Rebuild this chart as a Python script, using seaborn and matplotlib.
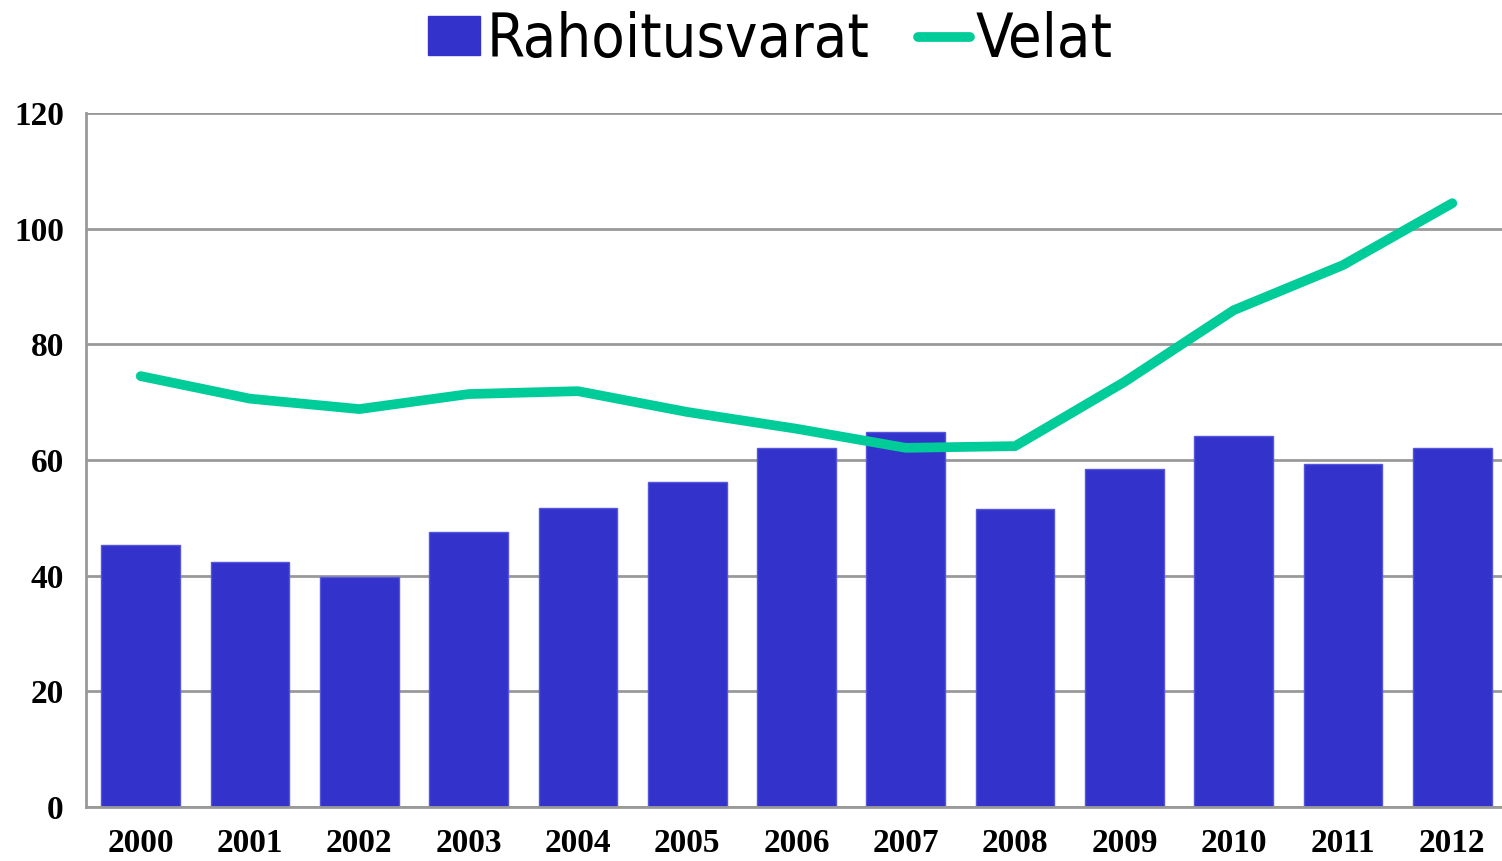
import pandas as pd
import matplotlib.pyplot as plt
import seaborn as sns
from matplotlib.patches import Patch
from matplotlib.lines import Line2D

years = ["2000", "2001", "2002", "2003", "2004", "2005", "2006",
         "2007", "2008", "2009", "2010", "2011", "2012"]
rahoitusvarat = [45.3, 42.4, 39.8, 47.6, 51.7, 56.2, 62.1,
                 64.8, 51.5, 58.4, 64.2, 59.3, 62.1]
velat = [74.5, 70.6, 68.8, 71.4, 71.9, 68.3, 65.4,
         62.1, 62.4, 73.5, 85.9, 93.7, 104.4]
y_ticks = [0, 20, 40, 60, 80, 100, 120]

BAR = "#3333CC"
LINE = "#00CC99"
GRID = "#999999"

df = pd.DataFrame({"year": years, "Rahoitusvarat": rahoitusvarat, "Velat": velat})

sns.set_style("white")

fig = plt.figure(figsize=(15.02, 8.61), dpi=100)
ax = fig.add_axes([0.0573, 0.0627, 0.9460, 0.8061])

sns.barplot(data=df, x="year", y="Rahoitusvarat", color=BAR, width=0.72,
            saturation=1, edgecolor="#5555DD", linewidth=1, ax=ax, zorder=2)
sns.lineplot(data=df, x="year", y="Velat", color=LINE, linewidth=7,
             solid_capstyle="round", solid_joinstyle="round", ax=ax, zorder=3)

ax.set_xlim(-0.5, 12.5)
ax.set_ylim(0, 120)
ax.set_yticks(y_ticks)
ax.yaxis.grid(True, color=GRID, linewidth=2, zorder=0)
ax.set_axisbelow(True)
ax.set_xlabel("")
ax.set_ylabel("")

for side in ["top", "right"]:
    ax.spines[side].set_visible(False)
for side in ["left", "bottom"]:
    ax.spines[side].set_color(GRID)
    ax.spines[side].set_linewidth(2)

ax.tick_params(axis="y", length=8, width=2, color=GRID, pad=8, labelcolor="black")
ax.tick_params(axis="x", length=0, pad=15, labelcolor="black")
for lbl in ax.get_xticklabels() + ax.get_yticklabels():
    lbl.set_fontfamily("Liberation Serif")
    lbl.set_fontweight("bold")
    lbl.set_fontsize(24)

handles = [Patch(facecolor=BAR, edgecolor=BAR),
           Line2D([0], [0], color=LINE, linewidth=7, solid_capstyle="round")]
leg = fig.legend(handles, ["Rahoitusvarat", "Velat"], loc="upper center",
                 bbox_to_anchor=(0.513, 1.051), ncol=2, frameon=False,
                 prop={"family": "DejaVu Sans", "size": 44, "stretch": "condensed"},
                 handlelength=0.85, handleheight=0.6, handletextpad=0.1,
                 columnspacing=0.8)
for t in leg.get_texts():
    t.set_color("black")

fig.savefig("out.png", dpi=100)
